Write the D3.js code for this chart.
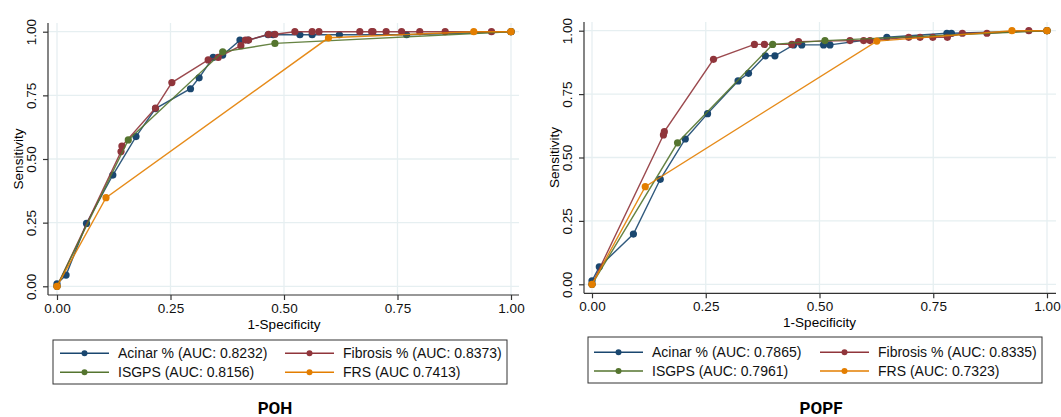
<!DOCTYPE html>
<html>
<head>
<meta charset="utf-8">
<script src="https://cdn.jsdelivr.net/npm/d3@7"></script>
<style>
  body { margin: 0; background: #fff; }
  text { font-family: "Liberation Sans", Arial, sans-serif; }
</style>
</head>
<body>
<div id="chart"></div>
<script>
// ---- data (1-specificity, sensitivity) ----
const ticks = [0, 0.25, 0.5, 0.75, 1];
const seriesNames = ["Acinar", "Fibrosis", "ISGPS", "FRS"];
const colors = ["#1a476f", "#90353b", "#55752f", "#e37e00"];

const pohAcinar = [[0, 0.01], [0.02, 0.044], [0.065, 0.247], [0.123, 0.437], [0.174, 0.588], [0.217, 0.698],
  [0.294, 0.776], [0.313, 0.819], [0.344, 0.899], [0.365, 0.908], [0.403, 0.967], [0.421, 0.967],
  [0.465, 0.988], [0.476, 0.988], [0.535, 0.988], [0.562, 0.988], [0.622, 0.988], [0.77, 0.988], [1, 1]];
const pohFibrosis = [[0, 0], [0.141, 0.529], [0.143, 0.551], [0.217, 0.70], [0.253, 0.80], [0.333, 0.889],
  [0.355, 0.899], [0.405, 0.945], [0.415, 0.967], [0.422, 0.967], [0.466, 0.99], [0.48, 0.99],
  [0.524, 1], [0.562, 1], [0.577, 1], [0.667, 1], [0.693, 1], [0.696, 1], [0.725, 1], [0.759, 1],
  [0.799, 1], [0.855, 1], [0.957, 1], [1, 1]];
const pohIsgps = [[0, 0], [0.157, 0.575], [0.365, 0.921], [0.48, 0.954], [1, 1]];
const pohFrs = [[0, 0], [0.108, 0.348], [0.598, 0.976], [0.918, 1], [1, 1]];
const pohLabels = ["Acinar % (AUC: 0.8232)", "Fibrosis % (AUC: 0.8373)", "ISGPS (AUC: 0.8156)", "FRS (AUC 0.7413)"];

const popfAcinar = [[0, 0.014], [0.016, 0.069], [0.091, 0.198], [0.15, 0.414], [0.205, 0.573], [0.254, 0.673],
  [0.321, 0.802], [0.344, 0.832], [0.381, 0.901], [0.402, 0.901], [0.443, 0.944], [0.461, 0.944],
  [0.509, 0.944], [0.523, 0.944], [0.648, 0.974], [0.78, 0.99], [0.79, 0.99], [1, 1]];
const popfFibrosis = [[0, 0], [0.157, 0.589], [0.159, 0.602], [0.267, 0.887], [0.357, 0.946], [0.379, 0.946],
  [0.439, 0.946], [0.454, 0.957], [0.567, 0.961], [0.597, 0.961], [0.611, 0.961], [0.696, 0.974],
  [0.721, 0.974], [0.749, 0.974], [0.781, 0.974], [0.814, 0.99], [0.868, 0.99], [0.96, 1], [1, 1]];
const popfIsgps = [[0, 0], [0.188, 0.558], [0.397, 0.946], [0.512, 0.961], [1, 1]];
const popfFrs = [[0, 0], [0.117, 0.385], [0.626, 0.959], [0.923, 1], [1, 1]];
const popfLabels = ["Acinar % (AUC: 0.7865)", "Fibrosis % (AUC: 0.8335)", "ISGPS (AUC: 0.7961)", "FRS (AUC: 0.7323)"];

// ---- layout ----
const panels = [
  { title: "POH", series: [pohAcinar, pohFibrosis, pohIsgps, pohFrs], labels: pohLabels,
    x0: 57, x1: 511, yBot: 286.3, yTop: 31.7, axisX: 48, axisY: 295, right: 519, top: 23,
    legend: { x: 53, y: 340, w: 454, h: 44, rows: [353.3, 372.3], cols: [60, 285] },
    titleX: 275, titleY: 414 },
  { title: "POPF", series: [popfAcinar, popfFibrosis, popfIsgps, popfFrs], labels: popfLabels,
    x0: 592, x1: 1047, yBot: 284.3, yTop: 30.7, axisX: 584, axisY: 293.3, right: 1056, top: 22,
    legend: { x: 588, y: 337, w: 454, h: 46, rows: [352.3, 371], cols: [594, 820] },
    titleX: 821, titleY: 414 }
];

const svg = d3.select("#chart").append("svg")
  .attr("width", 1061).attr("height", 417);

panels.forEach(function (p) {
  const x = d3.scaleLinear().domain([0, 1]).range([p.x0, p.x1]);
  const y = d3.scaleLinear().domain([0, 1]).range([p.yBot, p.yTop]);
  const g = svg.append("g");

  // grid
  g.selectAll(".vg").data(ticks).enter().append("line")
    .attr("x1", d => x(d)).attr("x2", d => x(d))
    .attr("y1", p.top).attr("y2", p.axisY)
    .attr("stroke", "#e6eff1").attr("stroke-width", 1.3);
  g.selectAll(".hg").data(ticks).enter().append("line")
    .attr("x1", p.axisX).attr("x2", p.right)
    .attr("y1", d => y(d)).attr("y2", d => y(d))
    .attr("stroke", "#e6eff1").attr("stroke-width", 1.3);

  // axes
  const xAxis = d3.axisBottom(x).tickValues(ticks).tickFormat(d3.format(".2f")).tickSize(5).tickPadding(3);
  const yAxis = d3.axisLeft(y).tickValues(ticks).tickFormat(d3.format(".2f")).tickSize(5).tickPadding(3);

  const gx = g.append("g").attr("transform", "translate(0," + p.axisY + ")").call(xAxis);
  gx.select(".domain").attr("d", "M" + p.axisX + ",0H" + p.right);
  gx.selectAll("text").style("font-size", "13.5px").attr("fill", "#111");

  const gy = g.append("g").attr("transform", "translate(" + p.axisX + ",0)").call(yAxis);
  gy.select(".domain").attr("d", "M0," + p.top + "V" + p.axisY);
  gy.selectAll("text")
    .style("font-size", "13.5px").attr("fill", "#111")
    .attr("x", 0).attr("dy", 0)
    .attr("transform", "translate(-12,0) rotate(-90)")
    .attr("text-anchor", "middle");
  g.selectAll(".domain, .tick line").attr("stroke", "#333").attr("stroke-width", 1.2);

  // axis titles
  g.append("text").attr("x", x(0.5)).attr("y", p.axisY + 34)
    .attr("text-anchor", "middle").style("font-size", "13.5px").text("1-Specificity");
  g.append("text")
    .attr("transform", "translate(" + (p.axisX - 25) + "," + y(0.5) + ") rotate(-90)")
    .attr("text-anchor", "middle").style("font-size", "13.5px").text("Sensitivity");

  // series
  const line = d3.line().x(d => x(d[0])).y(d => y(d[1]));
  p.series.forEach(function (s, i) {
    g.append("path").datum(s).attr("d", line)
      .attr("fill", "none").attr("stroke", colors[i]).attr("stroke-width", 1.4).attr("opacity", 0.9);
    g.append("g").selectAll("circle").data(s).enter().append("circle")
      .attr("cx", d => x(d[0])).attr("cy", d => y(d[1])).attr("r", 3.6)
      .attr("fill", colors[i]);
  });

  // legend
  const L = p.legend;
  g.append("rect").attr("x", L.x).attr("y", L.y).attr("width", L.w).attr("height", L.h)
    .attr("fill", "#fff").attr("stroke", "#333").attr("stroke-width", 1);
  p.labels.forEach(function (lab, i) {
    const cx = L.cols[i % 2], cy = L.rows[Math.floor(i / 2)];
    g.append("line").attr("x1", cx).attr("x2", cx + 49).attr("y1", cy).attr("y2", cy)
      .attr("stroke", colors[i]).attr("stroke-width", 1.4);
    g.append("circle").attr("cx", cx + 24.5).attr("cy", cy).attr("r", 3).attr("fill", colors[i]);
    g.append("text").attr("x", cx + 58).attr("y", cy).attr("dy", "0.36em")
      .style("font-size", "14px").attr("fill", "#111").text(lab);
  });

  // panel title
  g.append("text").attr("x", p.titleX).attr("y", p.titleY).attr("text-anchor", "middle")
    .style("font-size", "17px").style("font-weight", "bold")
    .style("font-family", "Roboto, 'Liberation Sans', sans-serif").text(p.title);
});
</script>
</body>
</html>
